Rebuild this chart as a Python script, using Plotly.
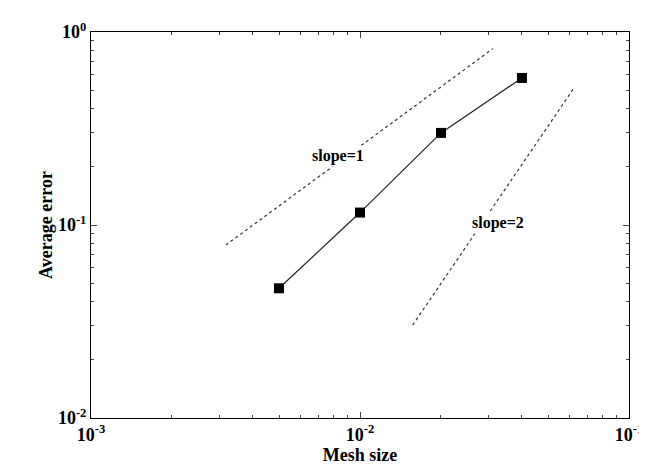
import plotly.graph_objects as go

mesh = [0.005, 0.01, 0.02, 0.04]
err = [0.047, 0.116, 0.30, 0.578]
s1_x = [0.00317, 0.0312]
s1_y = [0.0787, 0.82]
s2_x = [0.0157, 0.0625]
s2_y = [0.0303, 0.514]
xticks = [0.001, 0.01, 0.1]
xlabels = ["<b>10<sup>-3</sup></b>", "<b>10<sup>-2</sup></b>", "<b>10<sup>-1</sup></b>"]
yticks = [0.01, 0.1, 1]
ylabels = ["<b>10<sup>-2</sup></b>", "<b>10<sup>-1</sup></b>", "<b>10<sup>0</sup></b>"]

font = dict(family="Liberation Serif", size=18, color="black")
fig = go.Figure()
fig.add_trace(go.Scatter(x=s1_x, y=s1_y, mode="lines", line=dict(color="#333", width=1.2, dash="dot")))
fig.add_trace(go.Scatter(x=s2_x, y=s2_y, mode="lines", line=dict(color="#333", width=1.2, dash="dot")))
fig.add_trace(go.Scatter(x=mesh, y=err, mode="lines+markers", line=dict(color="#222", width=1.2),
                         marker=dict(symbol="square", size=10, color="black")))
fig.add_annotation(x=-2.08, y=-0.643, xref="x", yref="y", text="<b>slope=1</b>", showarrow=False,
                   font=dict(family="Liberation Serif", size=16), bgcolor="white")
fig.add_annotation(x=-1.486, y=-0.99, xref="x", yref="y", text="<b>slope=2</b>", showarrow=False,
                   font=dict(family="Liberation Serif", size=16), bgcolor="white")
ax = dict(type="log", showgrid=False, zeroline=False, showline=True, linecolor="black", linewidth=1,
          mirror="ticks", ticks="inside", ticklen=6,
          minor=dict(ticks="inside", ticklen=3, dtick="D1"), tickfont=font)
fig.update_xaxes(**ax, range=[-3, -1], tickvals=xticks, ticktext=xlabels,
                 title=dict(text="<b>Mesh size</b>", font=font, standoff=2))
fig.update_yaxes(**ax, range=[-2, 0], tickvals=yticks, ticktext=ylabels,
                 title=dict(text="<b>Average error</b>", font=font, standoff=0))
fig.update_layout(width=647, height=471, showlegend=False, plot_bgcolor="white", paper_bgcolor="white",
                  margin=dict(l=83, r=17, t=15, b=61), font=font)
fig.write_html("out.html")
